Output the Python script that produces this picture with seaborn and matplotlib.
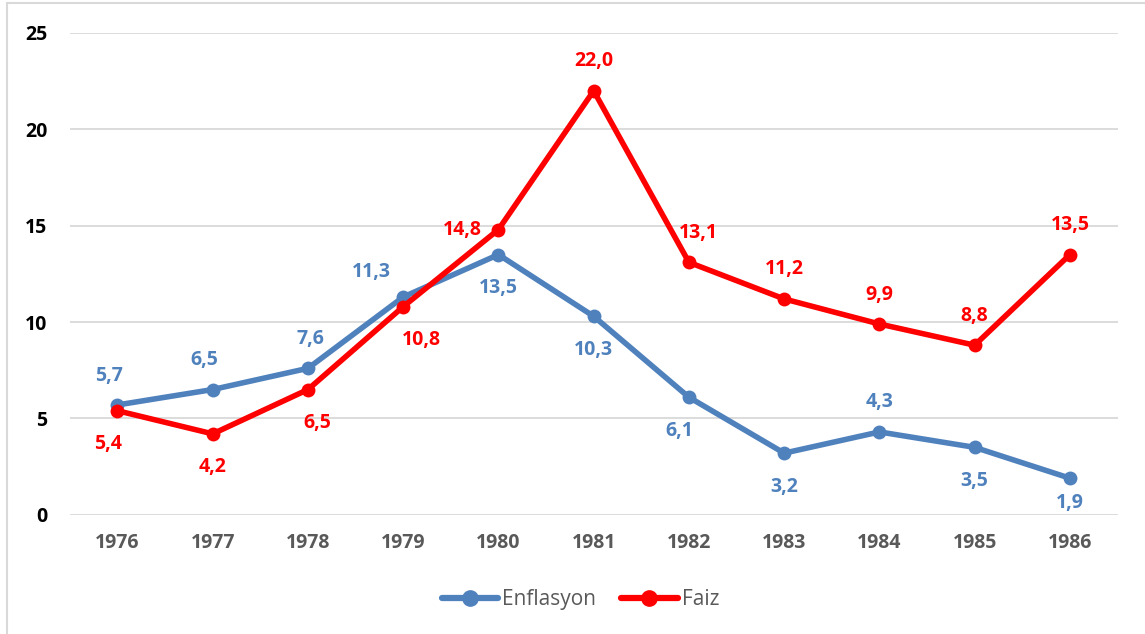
import pandas as pd
import numpy as np
import matplotlib.pyplot as plt
import seaborn as sns
from matplotlib.patches import Rectangle
from matplotlib.lines import Line2D

years = ['1976', '1977', '1978', '1979', '1980', '1981', '1982', '1983', '1984', '1985', '1986']
enflasyon = [5.7, 6.5, 7.6, 11.3, 13.5, 10.3, 6.1, 3.2, 4.3, 3.5, 1.9]
faiz = [5.4, 4.2, 6.5, 10.8, 14.8, 22.0, 13.1, 11.2, 9.9, 8.8, 13.5]

# label placement per point: 'a' above, 'b' below, 'bs' just below, 'al' above-left, 'l' left
enf_pos = ['a', 'a', 'a', 'al', 'b', 'b', 'b', 'b', 'a', 'b', 'bs']
faiz_pos = ['b', 'b', 'b', 'b', 'l', 'a', 'a', 'a', 'a', 'a', 'a']
# small horizontal nudges of the labels (points)
enf_dx = [-6, -6, 2, 0, 0, 0, -7, 0, 0, 0, 0]
faiz_dx = [-7, 0, 7, 13, 0, 0, 7, 0, 0, 0, 0]

blue = '#4F81BD'
red = '#FF0000'

sns.set_style('white')
plt.rcParams['font.family'] = ['Open Sans', 'DejaVu Sans']

df = pd.DataFrame({'Yil': years, 'Enflasyon': enflasyon, 'Faiz': faiz})
long_df = df.melt(id_vars='Yil', var_name='Seri', value_name='Deger')

fig = plt.figure(figsize=(11.45, 6.34), dpi=100)
ax = fig.add_axes([0.061, 0.188, 0.915, 0.760])

sns.lineplot(data=long_df, x='Yil', y='Deger', hue='Seri', palette=[blue, red],
             marker='o', markersize=10, markeredgewidth=0, linewidth=4,
             sort=False, legend=False, ax=ax)

ax.set_xlim(-0.5, len(years) - 0.5)
ax.set_ylim(0, 25)
ax.set_yticks(range(0, 26, 5))
ax.grid(axis='y', color='#D9D9D9', linewidth=1.3)
ax.set_axisbelow(True)
for s in ax.spines.values():
    s.set_visible(False)
ax.set_xlabel('')
ax.set_ylabel('')
ax.tick_params(axis='both', length=0)
ax.tick_params(axis='y', pad=16)
ax.tick_params(axis='x', pad=13)
for t in ax.get_yticklabels():
    t.set_fontsize(14)
    t.set_fontweight('bold')
    t.set_color('black')
for t in ax.get_xticklabels():
    t.set_fontsize(14)
    t.set_fontweight('bold')
    t.set_color('#595959')


def add_labels(values, positions, nudges, color):
    for i, (v, p, dx) in enumerate(zip(values, positions, nudges)):
        txt = f'{v:.1f}'.replace('.', ',')
        if p == 'a':
            off, ha, va = (dx, 14), 'center', 'bottom'
        elif p == 'b':
            off, ha, va = (dx, -17), 'center', 'top'
        elif p == 'bs':
            off, ha, va = (dx, -11), 'center', 'top'
        elif p == 'l':
            off, ha, va = (-12, 0), 'right', 'center'
        else:
            off, ha, va = (-9, 11), 'right', 'bottom'
        ax.annotate(txt, (i, v), xytext=off, textcoords='offset points',
                    ha=ha, va=va, color=color, fontsize=14, fontweight='bold')


add_labels(enflasyon, enf_pos, enf_dx, blue)
add_labels(faiz, faiz_pos, faiz_dx, red)

handles = [Line2D([], [], color=blue, marker='o', markersize=11, linewidth=4.5),
           Line2D([], [], color=red, marker='o', markersize=11, linewidth=4.5)]
leg = fig.legend(handles, ['Enflasyon', 'Faiz'], loc='center', bbox_to_anchor=(0.507, 0.054),
                 ncol=2, frameon=False, fontsize=15, handlelength=2.7,
                 columnspacing=1.2, handletextpad=0.2)
for t in leg.get_texts():
    t.set_color('#595959')

fig.patches.append(Rectangle((0.006, -0.05), 1.1, 1.045, transform=fig.transFigure,
                             fill=False, edgecolor='#D9D9D9', linewidth=1.5))

fig.savefig('out.png', dpi=100)
